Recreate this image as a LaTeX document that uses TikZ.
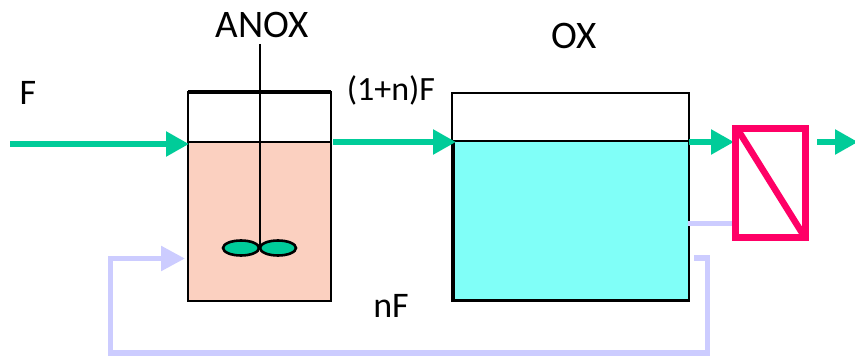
\documentclass[tikz,border=0pt]{standalone}
\usepackage{fontspec}
\setmainfont{Carlito}
\usetikzlibrary{arrows.meta,shapes.geometric}
\definecolor{flowgreen}{HTML}{00CC99}
\definecolor{recyc}{HTML}{CCCCFF}
\definecolor{salmon}{HTML}{FBD0C0}
\definecolor{aqua}{HTML}{80FFF8}
\definecolor{memb}{HTML}{FF0066}
\tikzset{
  x=1pt,y=-1pt,
  flow/.style={draw=flowgreen,line width=5.5pt,-{Triangle[length=23pt,width=24pt]}},
  recycle/.style={draw=recyc,line width=5.5pt},
  label/.style={font=\fontsize{36}{36}\selectfont,inner sep=0pt,text=black},
  biglabel/.style={font=\fontsize{39}{39}\selectfont,inner sep=0pt,text=black},
  tank/.style={draw=black,line width=2.3pt,inner sep=0pt,outer sep=0pt},
  blade/.style={draw=black,line width=2.6pt,fill=flowgreen,ellipse,minimum width=36pt,minimum height=15pt,inner sep=0pt},
}
\begin{document}
\begin{tikzpicture}
\useasboundingbox (0,0) rectangle (855,361);
% anoxic tank
\fill[salmon] (188,142) rectangle (331,301);
\node[tank,minimum width=143pt,minimum height=209pt] (anoxtank) at (259.5,196.5) {};
\draw[black,line width=3.5pt] (anoxtank.north west) -- (anoxtank.north east);
\draw[black,line width=1.8pt] (188,142) -- (331,142);
% oxic tank
\fill[aqua] (452,141) rectangle (689,301);
\node[tank,minimum width=237pt,minimum height=208pt] (oxtank) at (570.5,197) {};
\draw[black,line width=2pt] (452,141) -- (689,141);
\draw[black,line width=3.5pt] (453,141) -- (453,300.5) -- (689,300.5);
% named points
\coordinate (Fin) at (10,144);
\coordinate (anoxIn) at (189,144);
\coordinate (anoxOut) at (333,142);
\coordinate (oxIn) at (456,142);
\coordinate (oxOut) at (689,142);
\coordinate (membIn) at (734,142);
\coordinate (permStart) at (817,142);
\coordinate (permEnd) at (858,142);
\coordinate (shaftTop) at (260,44);
\coordinate (shaftBot) at (260,248);
\coordinate (retA) at (688,223);
\coordinate (retB) at (736,223);
\coordinate (r0) at (694,258);
\coordinate (r1) at (707.5,258);
\coordinate (r2) at (707.5,353);
\coordinate (r3) at (110.5,353);
\coordinate (r4) at (110.5,258.5);
\coordinate (anoxRet) at (185,258.5);
% stirrer
\draw[black,line width=2.3pt] (shaftTop) -- (shaftBot);
\node[blade] (bladeL) at (241,248) {};
\node[blade] (bladeR) at (278,248) {};
% flows
\draw[flow] (Fin) -- (anoxIn);
\draw[flow] (anoxOut) -- (oxIn);
\draw[flow] (oxOut) -- (membIn);
\draw[flow] (permStart) -- (permEnd);
% recycle
\draw[recycle,line width=5pt] (retA) -- (retB);
\draw[recycle,-{Triangle[length=24pt,width=24pt]}] (r0) -- (r1) -- (r2) -- (r3) -- (r4) -- (anoxRet);
% membrane
\node[draw=memb,line width=7pt,minimum width=69.5pt,minimum height=109pt,inner sep=0pt] (membrane) at (770.5,183) {};
\draw[memb,line width=6.5pt] (738,130) -- (804,236);
% labels
\node[label] (lF) at (28,93) {F};
\node[biglabel] (lA) at (262,25) {ANOX};
\node[font=\fontsize{34}{34}\selectfont,inner sep=0pt] (lN) at (391,90) {(1+n)F};
\node[biglabel] (lO) at (574,36) {OX};
\node[label] (lR) at (391,306) {nF};
\end{tikzpicture}
\end{document}
